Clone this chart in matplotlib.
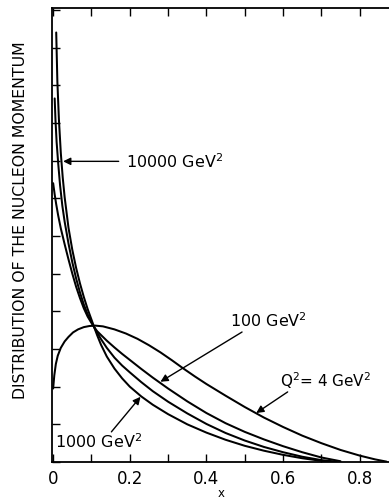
import matplotlib
matplotlib.use("Agg")
import matplotlib.pyplot as plt
from matplotlib.ticker import MultipleLocator, NullFormatter

# curves (x, momentum distribution in tick units)
x_q4 = [0.0, 0.003, 0.007, 0.012, 0.02, 0.03, 0.04, 0.052, 0.065, 0.08, 0.095, 0.11,
        0.13, 0.16, 0.19, 0.22, 0.25, 0.28, 0.31, 0.34, 0.37, 0.4, 0.45, 0.5, 0.55,
        0.6, 0.65, 0.7, 0.75, 0.8, 0.84, 0.87]
y_q4 = [1.95, 2.3, 2.6, 2.82, 3.03, 3.2, 3.32, 3.44, 3.52, 3.58, 3.61, 3.62,
        3.6, 3.52, 3.41, 3.27, 3.1, 2.91, 2.7, 2.48, 2.27, 2.07, 1.76, 1.46, 1.18,
        0.93, 0.7, 0.5, 0.32, 0.17, 0.07, 0.01]

x_q100 = [0.0, 0.004, 0.008, 0.013, 0.02, 0.03, 0.04, 0.05, 0.06, 0.07, 0.08, 0.09,
          0.1, 0.107, 0.115, 0.125, 0.14, 0.16, 0.18, 0.2, 0.23, 0.26, 0.3, 0.35,
          0.4, 0.45, 0.5, 0.55, 0.6, 0.65, 0.7, 0.75]
y_q100 = [7.4, 7.1, 6.84, 6.55, 6.2, 5.78, 5.38, 5.0, 4.65, 4.35, 4.08, 3.86,
          3.69, 3.58, 3.47, 3.37, 3.22, 3.04, 2.87, 2.71, 2.47, 2.24, 1.95, 1.61,
          1.3, 1.03, 0.8, 0.6, 0.42, 0.26, 0.12, 0.02]

x_q1000 = [0.004, 0.006, 0.009, 0.013, 0.018, 0.024, 0.03, 0.04, 0.05, 0.06, 0.07, 0.08,
           0.09, 0.1, 0.107, 0.115, 0.125, 0.14, 0.16, 0.18, 0.2, 0.23, 0.26, 0.3,
           0.35, 0.4, 0.45, 0.5, 0.55, 0.6, 0.65, 0.7, 0.74]
y_q1000 = [9.65, 9.1, 8.5, 7.95, 7.35, 6.8, 6.38, 5.8, 5.3, 4.87, 4.5, 4.18,
           3.92, 3.72, 3.58, 3.43, 3.26, 3.03, 2.77, 2.56, 2.38, 2.12, 1.88, 1.6,
           1.29, 1.01, 0.77, 0.57, 0.4, 0.26, 0.14, 0.05, 0.01]

x_q10000 = [0.008, 0.011, 0.015, 0.02, 0.025, 0.03, 0.04, 0.05, 0.06, 0.07, 0.08, 0.09,
            0.1, 0.107, 0.115, 0.125, 0.14, 0.16, 0.18, 0.2, 0.23, 0.26, 0.3, 0.35,
            0.4, 0.45, 0.5, 0.55, 0.6, 0.65, 0.7, 0.72]
y_q10000 = [11.4, 10.1, 9.1, 8.2, 7.55, 7.03, 6.22, 5.63, 5.15, 4.74, 4.38, 4.06,
            3.78, 3.58, 3.36, 3.11, 2.8, 2.48, 2.22, 2.0, 1.74, 1.52, 1.27, 1.0,
            0.78, 0.59, 0.43, 0.3, 0.19, 0.1, 0.03, 0.01]

xtick_values = [0, 0.2, 0.4, 0.6, 0.8]
xtick_labels = ["0", "0.2", "0.4", "0.6", "0.8"]

fig = plt.figure(figsize=(3.89, 5.01), dpi=100)
ax = fig.add_axes([52 / 389, 39 / 501, 346 / 389, 454 / 501])

lw = 1.45
for xs, ys in [(x_q4, y_q4), (x_q100, y_q100), (x_q1000, y_q1000), (x_q10000, y_q10000)]:
    ax.plot(xs, ys, color="black", lw=lw, solid_capstyle="round", solid_joinstyle="round")

ax.set_xlim(-0.003, 0.9)
ax.set_ylim(0, 12.05)

ax.set_xticks(xtick_values)
ax.set_xticklabels(xtick_labels)
ax.xaxis.set_minor_locator(MultipleLocator(0.1))
ax.yaxis.set_major_locator(MultipleLocator(1))
ax.yaxis.set_major_formatter(NullFormatter())
ax.tick_params(which="both", direction="in", length=6, width=1.0, top=True,
               labelsize=12, pad=6)
for s in ax.spines.values():
    s.set_linewidth(1.3)

ax.set_xlabel("x", fontsize=8.5, va="center")
ax.xaxis.set_label_coords(0.49, -0.069)
ax.set_ylabel("DISTRIBUTION OF THE NUCLEON MOMENTUM", fontsize=11.3)
ax.yaxis.set_label_coords(-0.07, 0.533)

arrow = dict(arrowstyle="-|>", lw=1.0, color="black", mutation_scale=11,
             shrinkA=0, shrinkB=0)
fs = 11.5
ax.annotate("", xy=(0.026, 7.98), xytext=(0.171, 7.98), arrowprops=arrow)
ax.text(0.19, 7.98, "10000 GeV$^2$", fontsize=fs, ha="left", va="center")

ax.annotate("", xy=(0.28, 2.13), xytext=(0.493, 3.45), arrowprops=arrow)
ax.text(0.562, 3.75, "100 GeV$^2$", fontsize=fs, ha="center", va="center")

ax.annotate("", xy=(0.53, 1.3), xytext=(0.612, 1.86), arrowprops=arrow)
ax.text(0.712, 2.15, "Q$^2$= 4 GeV$^2$", fontsize=11, ha="center", va="center")

ax.annotate("", xy=(0.228, 1.73), xytext=(0.152, 0.8), arrowprops=arrow)
ax.text(0.118, 0.55, "1000 GeV$^2$", fontsize=fs, ha="center", va="center")

fig.savefig("out.png", dpi=100)
